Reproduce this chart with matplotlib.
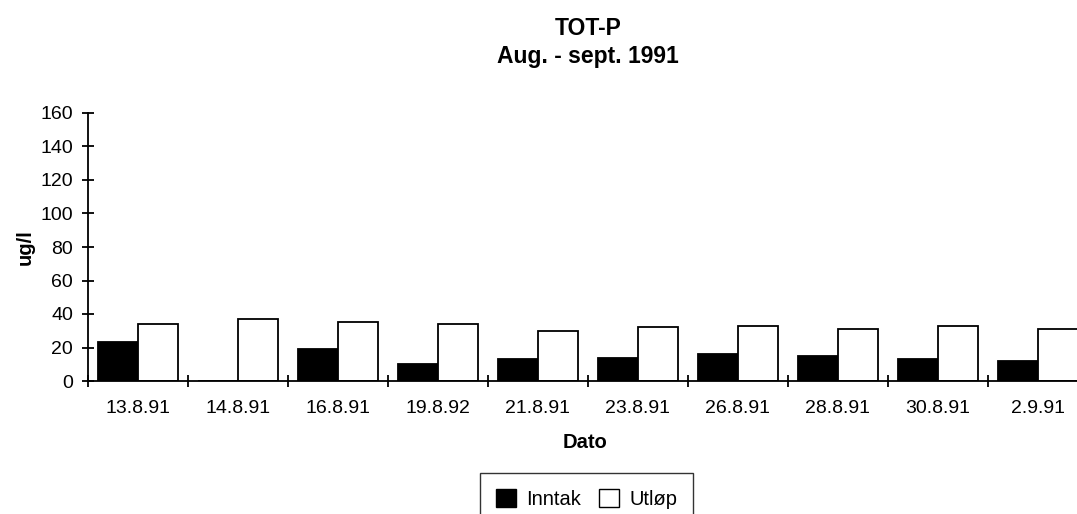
import numpy as np
import matplotlib
matplotlib.use("Agg")
import matplotlib.pyplot as plt
from matplotlib.patches import Patch

plt.rcParams['font.family'] = ['Liberation Sans', 'DejaVu Sans']

# data
dates = ["13.8.91", "14.8.91", "16.8.91", "19.8.92", "21.8.91",
         "23.8.91", "26.8.91", "28.8.91", "30.8.91", "2.9.91"]
inntak = [23, 0, 19, 10, 13, 14, 16, 15, 13, 12]
utlop = [34, 37, 35, 34, 30, 32, 33, 31, 33, 31]
yticks = [0, 20, 40, 60, 80, 100, 120, 140, 160]

W, H = 1077, 514
fig = plt.figure(figsize=(W / 100, H / 100), dpi=100)
# axis runs off the right edge of the scan, so the axes do too
ax = fig.add_axes([87.7 / W, (H - 381) / H, 1000 / W, 268 / H])

x = np.arange(len(dates))
bw = 0.4
ax.bar(x - bw / 2, inntak, bw, color="black", edgecolor="black", linewidth=1.3)
ax.bar(x + bw / 2, utlop, bw, color="white", edgecolor="black", linewidth=1.3)

ax.set_xlim(-0.5, len(dates) - 0.5)
ax.set_ylim(0, 160)
ax.set_yticks(yticks)

# tick marks at the category borders, labels in the middle
ax.set_xticks(np.arange(len(dates)) - 0.5)
ax.set_xticklabels([])
ax.set_xticks(x, minor=True)
ax.set_xticklabels(dates, minor=True, fontsize=14)
ax.tick_params(axis="x", which="major", direction="inout", length=9, width=1.3)
ax.tick_params(axis="x", which="minor", length=0, pad=14)
ax.tick_params(axis="y", direction="inout", length=9, width=1.3, labelsize=14, pad=6)

for s in ["top", "right"]:
    ax.spines[s].set_visible(False)
for s in ["left", "bottom"]:
    ax.spines[s].set_linewidth(1.3)

fig.text(25 / W, 1 - 247 / H, "ug/l", rotation=90, ha="center", va="center",
         fontsize=14.5, fontweight="bold")
fig.text(585 / W, 1 - 443 / H, "Dato", ha="center", va="center",
         fontsize=14.5, fontweight="bold")

fig.text(587.7 / W, 1 - 35 / H, "TOT-P", ha="center", va="baseline",
         fontsize=16.5, fontweight="bold")
fig.text(587.7 / W, 1 - 63 / H, "Aug. - sept. 1991", ha="center", va="baseline",
         fontsize=16.5, fontweight="bold")

handles = [Patch(facecolor="black", edgecolor="black", label="Inntak"),
           Patch(facecolor="white", edgecolor="black", label="Utløp")]
leg = fig.legend(handles=handles, loc="upper center", ncol=2,
                 bbox_to_anchor=(586.5 / W, 1 - 463 / H), fontsize=14.5,
                 frameon=True, fancybox=False, edgecolor="black",
                 handlelength=1.0, handleheight=1.0, handletextpad=0.5,
                 columnspacing=0.9, borderpad=0.8)
leg.get_frame().set_linewidth(1.0)

fig.savefig("out.png", dpi=100)
